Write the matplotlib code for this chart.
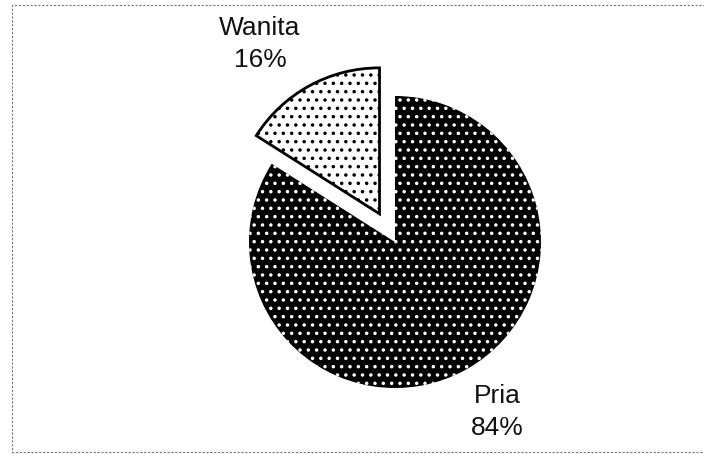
import matplotlib
matplotlib.use("Agg")
import matplotlib.pyplot as plt

# data
labels = ["Pria", "Wanita"]
percent = [84, 16]
explode = [0, 0.22]

plt.rcParams['font.family'] = ['Liberation Sans', 'DejaVu Sans']
plt.rcParams['hatch.linewidth'] = 1.3

W, H = 704, 454
fig = plt.figure(figsize=(W / 100, H / 100), dpi=100)
ax = fig.add_axes([0, 0, 1, 1])

# pie in pixel coordinates (y measured from bottom)
cx, cy, r = 395, H - 242, 146
wedges, _ = ax.pie(percent, explode=[e * r for e in explode], startangle=90,
                   counterclock=False, center=(cx, cy), radius=r)
ax.set_xlim(0, W)
ax.set_ylim(0, H)
ax.set_aspect('equal')
ax.axis('off')

# Pria: black with white dots
wedges[0].set_facecolor('black')
wedges[0].set_edgecolor('white')
wedges[0].set_linewidth(0)
wedges[0].set_hatch('..')

# Wanita: white with black dots, black outline
wedges[1].set_facecolor('white')
wedges[1].set_edgecolor('black')
wedges[1].set_linewidth(2)
wedges[1].set_hatch('..')

# labels
label_pos = [(497, H - 412), (260, H - 44)]
for name, p, (x, y) in zip(labels, percent, label_pos):
    ax.text(x, y, f"{name}\n{p}%", ha='center', va='center', fontsize=19,
            linespacing=1.4, color='#111111')

# dotted border (left, top, bottom)
bx0, by0, by1 = 12, H - 452, H - 5
ax.plot([W + 5, bx0, bx0, W + 5], [by1, by1, by0, by0], color='#777777',
        linewidth=0.8, linestyle=(0, (2, 1.5)), clip_on=False)

fig.savefig("out.png", dpi=100, facecolor='white')
